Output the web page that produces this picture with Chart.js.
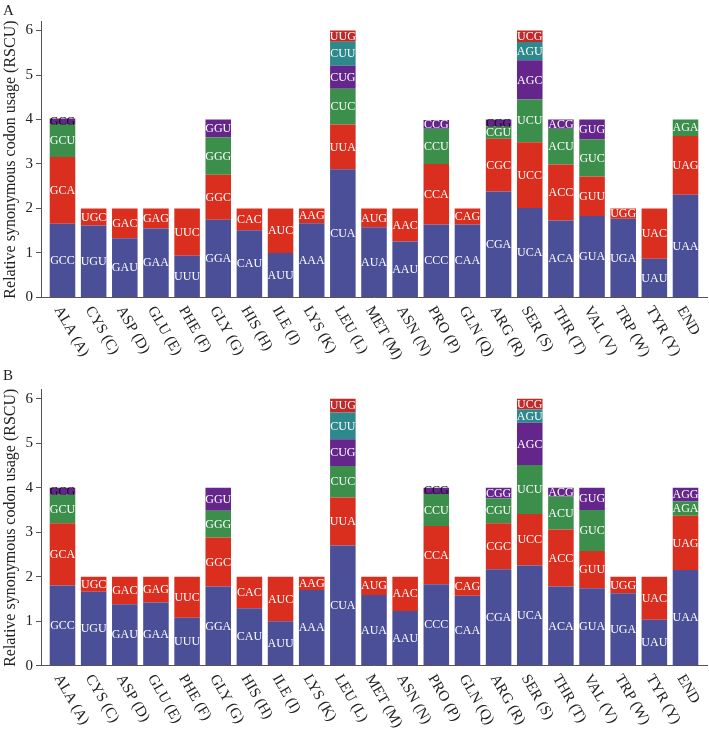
<!DOCTYPE html>
<html>
<head>
<meta charset="utf-8">
<title>RSCU</title>
<script src="https://cdn.jsdelivr.net/npm/chart.js@4.4.1/dist/chart.umd.min.js"></script>
<style>
  body { margin: 0; background: #fff; }
  canvas { display: block; }
</style>
</head>
<body>
<canvas id="chartA" width="709" height="360"></canvas>
<canvas id="chartB" width="709" height="369"></canvas>
<script>
const aminoAcids = ['ALA (A)', 'CYS (C)', 'ASP (D)', 'GLU (E)', 'PHE (F)', 'GLY (G)', 'HIS (H)',
  'ILE (I)', 'LYS (K)', 'LEU (L)', 'MET (M)', 'ASN (N)', 'PRO (P)', 'GLN (Q)', 'ARG (R)',
  'SER (S)', 'THR (T)', 'VAL (V)', 'TRP (W)', 'TYR (Y)', 'END'];

// codon in each stacked layer, bottom to top
const codons1 = ['GCC', 'UGU', 'GAU', 'GAA', 'UUU', 'GGA', 'CAU', 'AUU', 'AAA', 'CUA', 'AUA', 'AAU', 'CCC', 'CAA', 'CGA', 'UCA', 'ACA', 'GUA', 'UGA', 'UAU', 'UAA'];
const codons2 = ['GCA', 'UGC', 'GAC', 'GAG', 'UUC', 'GGC', 'CAC', 'AUC', 'AAG', 'UUA', 'AUG', 'AAC', 'CCA', 'CAG', 'CGC', 'UCC', 'ACC', 'GUU', 'UGG', 'UAC', 'UAG'];
const codons3 = ['GCU', null, null, null, null, 'GGG', null, null, null, 'CUC', null, null, 'CCU', null, 'CGU', 'UCU', 'ACU', 'GUC', null, null, 'AGA'];
const codons4 = ['GCG', null, null, null, null, 'GGU', null, null, null, 'CUG', null, null, 'CCG', null, 'CGG', 'AGC', 'ACG', 'GUG', null, null, 'AGG'];
const codons5 = [null, null, null, null, null, null, null, null, null, 'CUU', null, null, null, null, null, 'AGU', null, null, null, null, null];
const codons6 = [null, null, null, null, null, null, null, null, null, 'UUG', null, null, null, null, null, 'UCG', null, null, null, null, null];

// panel A
const rscuA1 = [1.66, 1.62, 1.33, 1.55, 0.94, 1.75, 1.51, 1.00, 1.67, 2.88, 1.58, 1.26, 1.64, 1.64, 2.38, 2.01, 1.73, 1.83, 1.77, 0.87, 2.31];
const rscuA2 = [1.50, 0.38, 0.67, 0.45, 1.06, 1.01, 0.49, 1.00, 0.33, 1.01, 0.42, 0.74, 1.36, 0.36, 1.19, 1.48, 1.26, 0.89, 0.23, 1.13, 1.32];
const rscuA3 = [0.74, null, null, null, null, 0.84, null, null, null, 0.80, null, null, 0.79, null, 0.27, 0.96, 0.80, 0.83, null, null, 0.37];
const rscuA4 = [0.12, null, null, null, null, 0.40, null, null, null, 0.52, null, null, 0.20, null, 0.16, 0.88, 0.21, 0.45, null, null, null];
const rscuA5 = [null, null, null, null, null, null, null, null, null, 0.54, null, null, null, null, null, 0.41, null, null, null, null, null];
const rscuA6 = [null, null, null, null, null, null, null, null, null, 0.25, null, null, null, null, null, 0.26, null, null, null, null, null];

// panel B
const rscuB1 = [1.80, 1.66, 1.38, 1.42, 1.08, 1.78, 1.29, 1.00, 1.70, 2.70, 1.59, 1.23, 1.83, 1.57, 2.17, 2.25, 1.78, 1.74, 1.63, 1.03, 2.15];
const rscuB2 = [1.40, 0.34, 0.62, 0.58, 0.92, 1.10, 0.71, 1.00, 0.30, 1.08, 0.41, 0.77, 1.31, 0.43, 1.03, 1.16, 1.28, 0.84, 0.37, 0.97, 1.22];
const rscuB3 = [0.64, null, null, null, null, 0.60, null, null, null, 0.71, null, null, 0.72, null, 0.56, 1.10, 0.74, 0.92, null, null, 0.32];
const rscuB4 = [0.16, null, null, null, null, 0.52, null, null, null, 0.60, null, null, 0.14, null, 0.24, 0.95, 0.20, 0.50, null, null, 0.31];
const rscuB5 = [null, null, null, null, null, null, null, null, null, 0.60, null, null, null, null, null, 0.30, null, null, null, null, null];
const rscuB6 = [null, null, null, null, null, null, null, null, null, 0.31, null, null, null, null, null, 0.24, null, null, null, null, null];

const codonLayers = [codons1, codons2, codons3, codons4, codons5, codons6];
const layerColors = ['#4a4f97', '#da2e1f', '#3b8f4a', '#65268c', '#2e898c', '#bf2a2a'];
const serif = '"Liberation Serif", "Times New Roman", serif';

// codon names written inside each stacked segment
const segmentLabels = {
  id: 'segmentLabels',
  afterDatasetsDraw(chart) {
    const ctx = chart.ctx;
    ctx.save();
    ctx.font = '12px ' + serif;
    ctx.textAlign = 'center';
    ctx.textBaseline = 'middle';
    chart.data.datasets.forEach((ds, di) => {
      chart.getDatasetMeta(di).data.forEach((bar, i) => {
        const v = ds.data[i];
        if (v == null || !ds.codons[i]) return;
        const p = bar.getProps(['x', 'y', 'base'], true);
        ctx.fillStyle = v < 0.19 ? '#111' : '#fff';
        ctx.fillText(ds.codons[i], p.x, (p.y + p.base) / 2 + 0.5);
      });
    });
    ctx.restore();
  }
};

// slanted amino acid names under the x axis
const slantedNames = {
  id: 'slantedNames',
  afterDraw(chart) {
    const { ctx, scales: { x, y } } = chart;
    const y0 = y.getPixelForValue(0);
    ctx.save();
    ctx.font = '15px ' + serif;
    ctx.fillStyle = '#222';
    ctx.textAlign = 'left';
    ctx.textBaseline = 'middle';
    aminoAcids.forEach((name, i) => {
      ctx.save();
      ctx.translate(x.getPixelForValue(i) - 5, y0 + 10);
      ctx.rotate(Math.PI / 3);
      ctx.fillText(name, 0, 0);
      ctx.restore();
    });
    ctx.restore();
  }
};

function drawPanel(id, series, letter, letterY, plotTop, axisSpace) {
  const letterPlugin = {
    id: 'panelLetter',
    afterDraw(chart) {
      const ctx = chart.ctx;
      ctx.save();
      ctx.font = '15px ' + serif;
      ctx.fillStyle = '#222';
      ctx.textBaseline = 'alphabetic';
      ctx.fillText(letter, 3, letterY);
      ctx.restore();
    }
  };

  return new Chart(document.getElementById(id).getContext('2d'), {
    type: 'bar',
    data: {
      labels: aminoAcids.map((_, i) => i),
      datasets: series.map((values, k) => ({
        label: 'layer ' + (k + 1),
        data: values,
        codons: codonLayers[k],
        backgroundColor: layerColors[k],
        borderWidth: 0,
        barPercentage: 0.82,
        categoryPercentage: 1,
      })),
    },
    options: {
      responsive: false,
      animation: false,
      devicePixelRatio: 1,
      layout: { padding: { top: plotTop, right: 2, left: 0, bottom: 0 } },
      plugins: { legend: { display: false }, tooltip: { enabled: false } },
      scales: {
        x: {
          type: 'linear',
          stacked: true,
          offset: false,
          min: -0.69,
          max: 20.69,
          ticks: { display: false },
          grid: { display: false, offset: false },
          border: { display: true, color: '#555' },
          afterFit: (s) => { s.height = axisSpace; },
        },
        y: {
          stacked: true,
          min: 0,
          max: 6.2,
          ticks: {
            stepSize: 1,
            includeBounds: false,
            padding: 3,
            color: '#222',
            font: { family: serif, size: 15 },
          },
          grid: { display: true, drawOnChartArea: false, drawTicks: true, tickLength: 5, color: '#555' },
          border: { display: true, color: '#555' },
          title: {
            display: true,
            text: 'Relative synonymous codon usage (RSCU)',
            color: '#222',
            font: { family: serif, size: 16 },
            padding: { top: 1, bottom: 0 },
          },
          afterFit: (s) => { s.width = 41; },
        },
      },
    },
    plugins: [segmentLabels, slantedNames, letterPlugin],
  });
}

drawPanel('chartA', [rscuA1, rscuA2, rscuA3, rscuA4, rscuA5, rscuA6], 'A', 15, 21.6, 62.5);
drawPanel('chartB', [rscuB1, rscuB2, rscuB3, rscuB4, rscuB5, rscuB6], 'B', 20, 29.8, 63.3);
</script>
</body>
</html>
